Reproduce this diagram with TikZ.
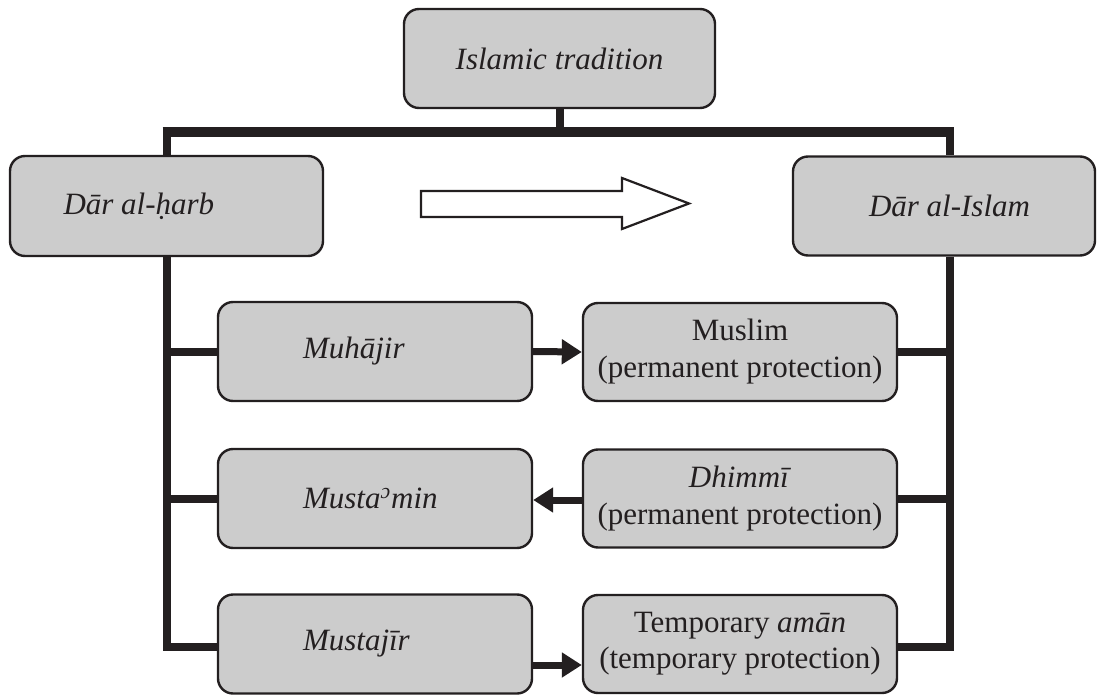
\documentclass[tikz,border=0pt]{standalone}
\usepackage{fontspec}
\setmainfont{Liberation Serif}
\usetikzlibrary{arrows.meta,calc}
\definecolor{boxgray}{HTML}{CCCCCC}
\definecolor{ink}{HTML}{231F20}
\begin{document}
\begin{tikzpicture}[x=0.5pt,y=-0.5pt,
  box/.style={draw=ink, fill=boxgray, line width=1.2pt, rounded corners=7.5pt,
    inner sep=0pt, font=\fontsize{15.5}{17}\selectfont, text=ink},
  lbox/.style={box, minimum width=157pt, minimum height=49.5pt},
  rbox/.style={box, minimum width=157pt, minimum height=49pt, align=center},
  tree/.style={draw=ink, line width=4pt, line cap=butt, line join=miter},
  conn/.style={draw=ink, line width=3.5pt, -{Triangle[length=10pt,width=12pt]}},
  bigarrow/.style={draw=ink, fill=white, line width=1.1pt, line join=miter}]
\useasboundingbox (0,0) rectangle (1097,695);

% top
\node[box, minimum width=155.5pt, minimum height=49.5pt] (top) at (559.5,58.5) {\itshape Islamic tradition};

% level 2
\node[box, minimum width=156.5pt, minimum height=50pt] (harb) at (166.5,206) {\makebox[103pt][l]{\itshape Dār al-ḥarb}};
\node[box, minimum width=151pt, minimum height=49.5pt] (islam) at (944,206) {\makebox[75pt][l]{\itshape Dār al-Islam}};

% big arrow
\draw[bigarrow] (421,191) -- (622,191) -- (622,178) -- (689,203.5) -- (622,229) -- (622,217) -- (421,217) -- cycle;

% left column
\node[lbox] (muhajir) at (375,351.5) {\makebox[72pt][l]{\itshape Muhājir}};
\node[lbox] (mustamin) at (375,498.5) {\makebox[72pt][l]{\itshape Musta\textsuperscript{ɔ}min}};
\node[lbox] (mustajir) at (375,644) {\makebox[72pt][l]{\itshape Mustajīr}};

% right column
\node[rbox] (muslim) at (740,352) {Muslim\\[1.5pt](permanent protection)};
\node[rbox] (dhimmi) at (740,498.5) {\textit{Dhimmī}\\[1.5pt](permanent protection)};
\node[rbox] (temp) at (740,644) {Temporary \textit{amān}\\[1pt](temporary protection)};

% tree connectors
\coordinate (jL) at (166.5,132);
\coordinate (jR) at (950,132);
\coordinate (bL) at (166.5,647);
\coordinate (bR) at (950,647);
\draw[tree] (top.south) -- (top.south |- jL);
\draw[tree] (jL |- harb.north) -- (jL);
\draw[tree] (jR) -- (jR |- islam.north);
\draw[tree, line width=4.6pt] ([xshift=-2pt]jL) -- ([xshift=2pt]jR);
\draw[tree] (harb.south) -- (bL) -- (bL -| mustajir.west);
\draw[tree] (jL |- muhajir.west) -- (muhajir.west);
\draw[tree] (jL |- mustamin.west) -- (mustamin.west);
\draw[tree] (jR |- islam.south) -- (bR) -- (bR -| temp.east);
\draw[tree] (muslim.east) -- (jR |- muslim.east);
\draw[tree] (dhimmi.east) -- (jR |- dhimmi.east);

% small arrows
\coordinate (a3) at ([yshift=-10.5pt]mustajir.east);
\draw[conn] (muhajir.east) -- (muslim.west);
\draw[conn] ([yshift=-0.75pt]dhimmi.west) -- ([yshift=-0.75pt]mustamin.east);
\draw[conn] (a3) -- (a3 -| temp.west);
\end{tikzpicture}
\end{document}
